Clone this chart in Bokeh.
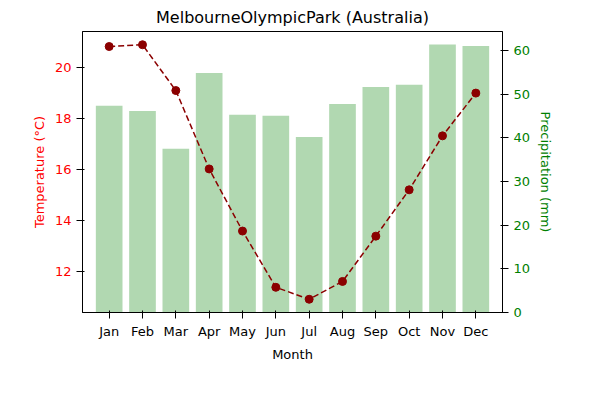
from bokeh.plotting import figure
from bokeh.models import Range1d, LinearAxis, Legend, FactorRange
from bokeh.embed import file_html
from bokeh.resources import INLINE

months = ["Jan", "Feb", "Mar", "Apr", "May", "Jun", "Jul", "Aug", "Sep", "Oct", "Nov", "Dec"]
max_temp = [20.83, 20.9, 19.1, 16.02, 13.58, 11.37, 10.9, 11.6, 13.38, 15.2, 17.32, 19.0]
precip = [47.4, 46.2, 37.5, 54.9, 45.3, 45.1, 40.2, 47.8, 51.7, 52.2, 61.4, 61.1]

p = figure(width=584, height=384, x_range=FactorRange(*months, range_padding=0.05),
           y_range=Range1d(10.38, 21.42), output_backend="svg", toolbar_location=None,
           title="MelbourneOlympicPark (Australia)",
           min_border_left=82, min_border_right=82, min_border_top=0, min_border_bottom=72)
p.title.align = "center"
p.title.text_font_size = "16px"
p.title.text_font = "DejaVu Sans"
p.title.text_font_style = "normal"
p.title.text_color = "black"
p.extra_y_ranges = {"precip": Range1d(0, 64.4)}

bars = p.vbar(x=months, top=precip, width=0.8, y_range_name="precip",
              color="#b1d8b1", line_color=None)
line = p.line(months, max_temp, color="#8b0000", line_dash="6 3", line_width=1.5)
pts = p.scatter(months, max_temp, size=8, color="#8b0000")

ax2 = LinearAxis(y_range_name="precip", axis_label="Precipitation (mm)")
p.add_layout(ax2, "right")

p.xaxis.axis_label = "Month"
p.yaxis[0].axis_label = "Temperature (°C)"
p.yaxis[0].axis_label_text_color = "red"
p.yaxis[0].major_label_text_color = "red"
ax2.axis_label_text_color = "green"
ax2.major_label_text_color = "green"
for ax in p.xaxis + p.yaxis:
    ax.axis_label_text_font_style = "normal"
    ax.axis_label_text_font = "DejaVu Sans"
    ax.major_label_text_font = "DejaVu Sans"
    ax.axis_label_text_font_size = "13px"
    ax.major_label_text_font_size = "13px"
    ax.minor_tick_line_color = None
p.xaxis.axis_label_text_color = "black"
p.xaxis.major_label_text_color = "black"
p.xgrid.grid_line_color = None
p.ygrid.grid_line_color = None
p.outline_line_color = "black"

legend = Legend(items=[("Max Temperature (°C)", [line, pts]), ("Precipitation (mm)", [bars])],
                orientation="horizontal", location=(36, -73), label_text_font_size="10px",
                border_line_color="#cccccc", padding=4, spacing=20, glyph_height=12)
p.add_layout(legend, "center")

open("out.html", "w").write(file_html(p, INLINE))
